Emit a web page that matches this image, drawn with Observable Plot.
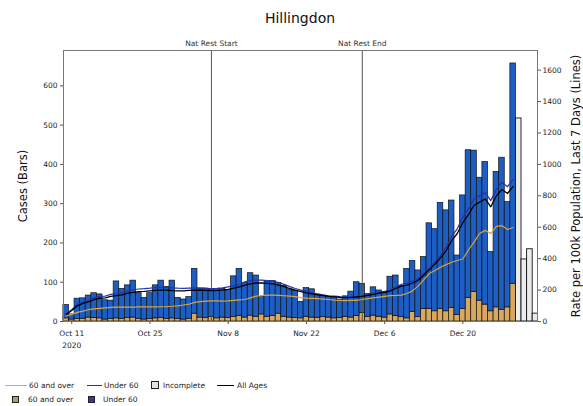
<!DOCTYPE html>
<html>
<head>
<meta charset="utf-8">
<script src="https://cdn.jsdelivr.net/npm/d3@7"></script>
<script src="https://cdn.jsdelivr.net/npm/@observablehq/plot@0.6"></script>
<style>
  body { margin: 0; background: #fff; font-family: "DejaVu Sans", sans-serif; }
  #wrap { position: relative; width: 583px; height: 406px; overflow: hidden; background: #fff; }
  #title { position: absolute; top: 10px; left: 0; width: 600px; text-align: center; font-size: 14px; line-height: 16px; color: #111; }
  #chart { position: absolute; top: 28px; left: 0; }
  .lt { position: absolute; font-size: 7.5px; line-height: 9px; color: #222; white-space: nowrap; }
  .ln { position: absolute; height: 0; }
  .sq { position: absolute; box-sizing: border-box; }
</style>
</head>
<body>
<div id="wrap">
  <div id="title">Hillingdon</div>
  <div id="chart"></div>
  <div id="legend"></div>
</div>
<script>
// ---- data ----
const startDate = "2020-10-10";            // first bar
const allCases = [42, 18, 58, 59, 66, 72, 69, 54, 53, 102,
  83, 92, 104, 72, 60, 72, 92, 104, 88, 104,
  60, 56, 62, 134, 84, 84, 80, 83, 83, 80,
  115, 134, 98, 123, 117, 62, 102, 103, 98, 91,
  82, 78, 50, 85, 82, 68, 65, 63, 62, 56,
  64, 76, 100, 96, 70, 87, 79, 75, 114, 117,
  90, 134, 154, 130, 164, 250, 235, 302, 283, 308,
  168, 321, 436, 435, 366, 406, 177, 381, 417, 304, 657];
const over60Cases = [8, 5, 6, 7, 10, 9, 8, 5, 6, 8,
  7, 9, 10, 6, 5, 6, 8, 9, 7, 8,
  6, 5, 7, 20, 10, 9, 12, 8, 10, 9,
  12, 14, 10, 15, 12, 18, 12, 14, 20, 12,
  10, 9, 8, 12, 10, 9, 11, 10, 8, 9,
  12, 10, 14, 22, 12, 15, 12, 10, 18, 14,
  11, 8, 24, 11, 32, 32, 26, 32, 26, 34,
  17, 32, 60, 75, 53, 43, 26, 36, 30, 36, 96];
const incompleteCases = [517, 158, 184, 20];   // Dec 30 .. Jan 2
const allAgesRate = [45, 70, 100, 115, 125, 140, 148, 150, 160, 165,
  170, 180, 186, 190, 192, 195, 198, 200, 200, 197,
  195, 195, 198, 200, 199, 198, 197, 198, 200, 205,
  212, 220, 232, 240, 246, 245, 243, 240, 232, 222,
  210, 200, 190, 182, 176, 170, 165, 160, 157, 154,
  152, 153, 156, 160, 166, 172, 180, 186, 194, 210,
  225, 232, 245, 262, 295, 330, 365, 405, 450, 515,
  560, 630, 680, 740, 760, 780, 730, 800, 840, 815, 860];
const under60Rate = [48, 75, 108, 124, 135, 152, 160, 162, 173, 178,
  184, 195, 202, 207, 209, 212, 216, 218, 218, 214,
  212, 211, 213, 214, 213, 211, 210, 211, 214, 220,
  228, 237, 252, 260, 264, 263, 260, 257, 248, 236,
  222, 210, 200, 190, 182, 176, 170, 164, 161, 158,
  156, 157, 160, 164, 170, 177, 185, 192, 200, 219,
  237, 243, 256, 272, 305, 340, 378, 420, 470, 542,
  590, 665, 715, 780, 800, 820, 770, 842, 885, 858, 905];
const over60Rate = [35, 45, 58, 66, 75, 80, 84, 87, 90, 91,
  91, 92, 92, 93, 93, 93, 93, 94, 95, 97,
  100, 105, 110, 122, 126, 130, 131, 131, 130, 131,
  134, 138, 140, 150, 162, 165, 168, 168, 166, 164,
  162, 158, 152, 149, 147, 145, 143, 140, 136, 134,
  133, 134, 135, 140, 146, 150, 155, 160, 165, 166,
  168, 178, 195, 225, 265, 305, 325, 345, 362, 377,
  388, 398, 455, 505, 560, 580, 560, 605, 610, 585, 598];
const eventDates = ["2020-11-05", "2020-12-02"];
const eventLabels = ["Nat Rest Start", "Nat Rest End"];
const xTickDates = ["2020-10-11", "2020-10-25", "2020-11-08", "2020-11-22", "2020-12-06", "2020-12-20"];
const xTickLabels = ["Oct 11\n2020", "Oct 25", "Nov 8", "Nov 22", "Dec 6", "Dec 20"];
const caseTicks = [0, 100, 200, 300, 400, 500, 600];
const rateTicks = [0, 200, 400, 600, 800, 1000, 1200, 1400, 1600];

// ---- build tables ----
const DAY = 864e5;
const t0 = Date.parse(startDate);
const dateAt = i => new Date(t0 + i * DAY);
const K = 0.4; // right (rate) axis maps onto the cases scale: 1 rate unit = 0.4 cases
const rows = allCases.map((v, i) => ({
  date: dateAt(i), total: v, over60: over60Cases[i],
  rAll: allAgesRate[i], rU60: under60Rate[i], r60: over60Rate[i]
}));
const inc = incompleteCases.map((v, i) => ({ date: dateAt(allCases.length + i), total: v }));
const events = eventDates.map((d, i) => ({ date: new Date(d), label: eventLabels[i] }));
const tickLabelOf = new Map(xTickDates.map((d, i) => [+new Date(d), xTickLabels[i]]));
const lo = d => new Date(+d.date - DAY / 2);
const hi = d => new Date(+d.date + DAY / 2);

const chart = Plot.plot({
  width: 583, height: 342,
  marginTop: 22, marginBottom: 49, marginLeft: 63, marginRight: 46,
  style: { fontFamily: "DejaVu Sans, sans-serif", fontSize: "7.5px", background: "white", color: "#222" },
  x: { type: "utc", domain: [new Date(t0 - 0.48 * DAY), new Date(t0 + 84.36 * DAY)] },
  y: { domain: [0, 690] },
  marks: [
    Plot.rect(rows, { x1: lo, x2: hi, y1: 0, y2: "over60", fill: "#d9a85e", stroke: "#111", strokeWidth: 0.7 }),
    Plot.rect(rows, { x1: lo, x2: hi, y1: "over60", y2: "total", fill: "#1c5ec4", stroke: "#111", strokeWidth: 0.7 }),
    Plot.rect(inc, { x1: lo, x2: hi, y1: 0, y2: "total", fill: "#ececec", stroke: "#111", strokeWidth: 0.9, clip: true }),
    Plot.ruleX(events, { x: "date", stroke: "#555", strokeWidth: 1 }),
    Plot.text(events, { x: "date", text: "label", frameAnchor: "top", dy: -10, fontSize: 7.5, fill: "#333" }),
    Plot.line(rows, { x: "date", y: d => d.r60 * K, stroke: "#d8a23c", strokeWidth: 1.2 }),
    Plot.line(rows, { x: "date", y: d => d.rU60 * K, stroke: "#2233aa", strokeWidth: 1.2 }),
    Plot.line(rows, { x: "date", y: d => d.rAll * K, stroke: "#000", strokeWidth: 1.3 }),
    Plot.frame({ stroke: "#777", strokeWidth: 1 }),
    Plot.axisX(xTickDates.map(d => new Date(d)), {
      tickFormat: d => tickLabelOf.get(+d), tickSize: 3, tickPadding: 4,
      fontSize: 7.5, lineHeight: 1.5, label: null, stroke: "#555"
    }),
    Plot.axisY(caseTicks, { anchor: "left", tickSize: 3, tickPadding: 3, fontSize: 7.5, label: null, stroke: "#555" }),
    Plot.axisY(rateTicks.map(r => r * K), {
      anchor: "right", tickFormat: d => String(Math.round(d / K)),
      tickSize: 3, tickPadding: 2, fontSize: 7.5, label: null, stroke: "#555"
    }),
    Plot.text(["Cases (Bars)"], { frameAnchor: "left", textAnchor: "middle", dx: -40, rotate: -90, fontSize: 11.5, fill: "#111" }),
    Plot.text(["Rate per 100k Population, Last 7 Days (Lines)"], { frameAnchor: "right", textAnchor: "middle", dx: 39, rotate: -90, fontSize: 11.5, fill: "#111" })
  ]
});
document.getElementById("chart").appendChild(chart);

// ---- legend ----
const legendRow1 = [
  { kind: "line", x: 5, w: 22, color: "#d2ad68", label: "60 and over", tx: 29 },
  { kind: "line", x: 87, w: 15, color: "#2b35a8", label: "Under 60", tx: 104 },
  { kind: "sq", x: 151, w: 8, color: "#e4e4e4", label: "Incomplete", tx: 163 },
  { kind: "line", x: 217, w: 17, color: "#000", label: "All Ages", tx: 237 }
];
const legendRow2 = [
  { kind: "sq", x: 12, w: 7, color: "#a9a35e", label: "60 and over", tx: 28 },
  { kind: "sq", x: 88, w: 7, color: "#3437a4", label: "Under 60", tx: 103 }
];
const lg = document.getElementById("legend");
function addRow(items, cy) {
  for (const it of items) {
    const s = document.createElement("div");
    if (it.kind === "line") {
      s.className = "ln";
      s.style.cssText += `left:${it.x}px;top:${cy - 0.5}px;width:${it.w}px;border-top:1.2px solid ${it.color};`;
    } else {
      s.className = "sq";
      s.style.cssText += `left:${it.x}px;top:${cy - it.w / 2}px;width:${it.w}px;height:${it.w}px;background:${it.color};border:1px solid #222;`;
    }
    lg.appendChild(s);
    const t = document.createElement("div");
    t.className = "lt";
    t.style.left = it.tx + "px";
    t.style.top = (cy - 4.5) + "px";
    t.textContent = it.label;
    lg.appendChild(t);
  }
}
addRow(legendRow1, 385);
addRow(legendRow2, 399);
</script>
</body>
</html>
